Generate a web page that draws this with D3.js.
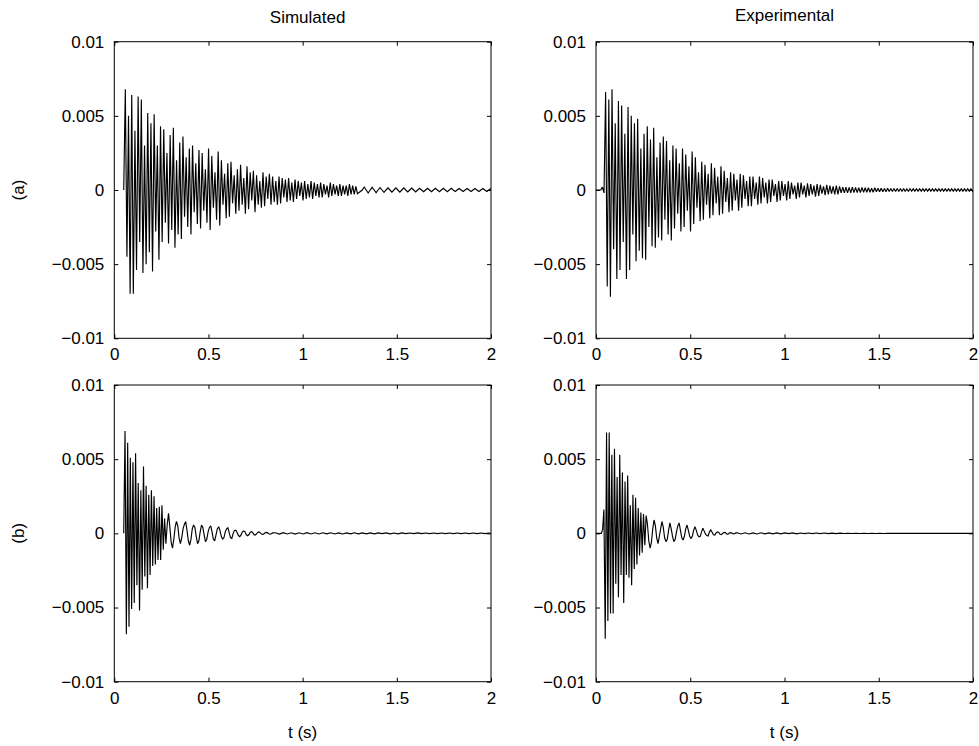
<!DOCTYPE html>
<html>
<head>
<meta charset="utf-8">
<script src="https://cdn.jsdelivr.net/npm/d3@7"></script>
<style>
  html, body { margin: 0; padding: 0; background: #fff; }
  svg { display: block; font-family: "Liberation Sans", Arial, Helvetica, sans-serif; }
</style>
</head>
<body>
<svg id="chart" width="979" height="746"></svg>
<script>
// ---------------- DATA ----------------
// Signal values below are read off the picture, in units of 1e-4 (multiplied by UNIT when drawn).
const UNIT = 1e-4;
const columnTitles = ["Simulated", "Experimental"];
const rowLabels = ["(a)", "(b)"];
const xLabel = "t (s)";
const xTickValues = [0, 0.5, 1, 1.5, 2];
const xTickLabels = ["0", "0.5", "1", "1.5", "2"];
const yTickValues = [-0.01, -0.005, 0, 0.005, 0.01];
const yTickLabels = ["\u22120.01", "\u22120.005", "0", "0.005", "0.01"];
const xDomain = [0, 2];
const yDomain = [-0.01, 0.01];

// (a) Simulated: samples every simAStep seconds from simAStart
const simAStart = 0.05, simAStep = 0.0085;
const simA = [0,
  68,-45, 50,-70, 64,-70, 40,-54, 63,-35, 61,-56, 30,-50, 52,-42, 45,-55, 51,-28,
  30,-47, 43,-35, 41,-22, 25,-36, 37,-27, 42,-39, 20,-30, 32,-33, 36,-18, 22,-25,
  28,-30, 30,-15, 18,-23, 27,-26, 25,-14, 14,-22, 28,-27, 23,-12, 12,-20, 26,-24,
  20,-10, 11,-19, 18,-18, 19,-9, 10,-16, 14,-14, 17,-10, 8,-16, 16,-13, 12,-7,
  13,-15, 10,-10, 6,-12, 12,-11, 9,-6, 11,-10, 9,-8, 6,-10, 9,-9, 8,-5,
  7,-8, 8,-7, 5,-8, 7,-6, 6,-4, 5,-7, 6,-6, 4,-5, 6,-6, 5,-4,
  4,-5, 5,-5, 4,-3, 3,-5, 5,-4, 4,-3, 3,-4, 4,-4, 3,-3, 3,-4,
  4,-3, 3,-3, 2.5,-2.5
];
// slower, small tail of the simulated (a) response
const simATailStart = 1.3165, simATailStep = 0.0105;
const simATail = [
  0, 2, 0, -2, 0, 1.8, 0, -1.8, 0, 1.6,
  0, -1.6, 0, 1.5, 0, -1.5, 0, 1.4, 0, -1.4,
  0, 1.4, 0, -1.3, 0, 1.3, 0, -1.3, 0, 1.2,
  0, -1.2, 0, 1.2, 0, -1.2, 0, 1.1, 0, -1.1,
  0, 1.1, 0, -1.1, 0, 1.1, 0, -1, 0, 1,
  0, -1, 0, 1, 0, -1, 0, 1, 0, -1,
  0, 1, 0, -1, 0, 1, 0
];

// (a) Experimental
const expAStart = 0, expAStep = 0.0085;
const expA = [0, 0, 0, 0, 2, -2,
  66,-65, 61,-72, 68,-40, 45,-60, 60,-54, 57,-35, 38,-60, 56,-54, 50,-30, 45,-48,
  48,-41, 28,-46, 38,-47, 43,-25, 34,-38, 42,-39, 22,-32, 32,-34, 36,-20, 33,-30,
  20,-34, 30,-26, 28,-16, 18,-28, 28,-25, 24,-14, 16,-28, 26,-23, 22,-12, 12,-21,
  19,-20, 17,-10, 11,-19, 18,-17, 15,-9, 9,-17, 16,-16, 13,-8, 8,-15, 12,-14,
  11,-7, 7,-14, 11,-12, 10,-6, 6,-11, 9,-11, 9,-6, 5,-10, 9,-9, 8,-5,
  5,-9, 7,-8, 7,-4, 4,-8, 6,-7, 6,-4, 4,-7, 6,-6, 5,-3, 3,-6,
  5,-5, 5,-3, 3,-5, 4.5,-4, 4,-3, 3,-4.5, 4,-4, 3.5,-2.5, 2.5,-3.5, 3.5,-3,
  3,-2.5, 2.5,-3, 3,-3,
  2.5,-2, 2,-2, 2,-2, 1.8,-2, 2,-1.8, 1.8,-1.8,
  1.5,-1.8, 1.8,-1.5, 1.5,-1.5, 1.5,-1.5, 1.2,-1.5,
  1.5,-1.2, 1.2,-1.2, 1.2,-1.2, 1,-1.2, 1.2,-1,
  1,-1, 1,-1, 1,-1, 1,-1, 1,-1,
  0.8,-1, 1,-0.8, 0.8,-0.8, 0.8,-0.8, 0.8,-0.8,
  0.8,-0.8, 0.8,-0.8, 0.8,-0.8, 0.8,-0.8, 0.8,-0.8,
  0.8,-0.8, 0.8,-0.8, 0.8,-0.8, 0.8,-0.8, 0.8,-0.8,
  0.8,-0.8, 0.8,-0.8, 0.8,-0.8, 0.8,-0.8, 0.8,-0.8,
  0.8,-0.8, 0.8,-0.8
];

// (b) Simulated: main part, then slow low-amplitude tail
const simBStart = 0.05, simBStep = 0.007;
const simB = [0,
  69,-68, 61,-63, 51,-51, 48,-47, 54,-35,
  34,-52, 29,-38, 45,-29, 32,-37, 26,-28,
  29,-22, 25,-21, 17,-18, 18,-18, 19,-11,
  10,-7, 6, 13.5, 4, -6, -10, -4, 4, 8,
  5, -3, -7, -3, 3, 6, 8, 2, -5, -8,
  -4, 3, 5.6, 4, -2, -7, -5, 1, 5.6, 4,
  -1, -5.6, -4, 1, 4, 5, 1, -4, -5, -1,
  3, 4.5, 2, -2, -3.8, -3, 1, 3, 3.8, 0.5,
  -3, -3.4, 0, 2, 2.2, 0.5, -1.5, -2.2, -1, 1,
  1.6, 1, -1, -1.6, -0.8, 0.8, 1.2, 0.3, -1, -1,
  0, 0.8, 0.8, 0, -0.7, -0.6, 0.2, 0.6, 0.5, -0.3,
  -0.5, -0.3, 0.3, 0.4
];
const simBTailStart = 0.855, simBTailStep = 0.021;
const simBTail = [
  0.4,-0.5, 0.5,-0.4, 0.4,-0.5, 0.4,-0.4, 0.5,-0.4,
  0.4,-0.4, 0.4,-0.3, 0.4,-0.4, 0.3,-0.4, 0.3,-0.3,
  0.4,-0.3, 0.3,-0.3, 0.3,-0.3, 0.3,-0.2, 0.3,-0.3,
  0.2,-0.3, 0.3,-0.2, 0.2,-0.2, 0.3,-0.2, 0.2,-0.2,
  0.2,-0.2, 0.2,-0.2, 0.2,-0.2, 0.2,-0.2, 0.2,-0.2,
  0.2,-0.2, 0.2,-0.2, 0.2,-0.2
];

// (b) Experimental
const expBStart = 0, expBStep = 0.007;
const expB = [0, 0, 0, 0, 0, 2.5,
  16,-71, 68,-59, 68,-54, 53,-54, 57,-34,
  38,-43, 53,-28, 41,-47, 35,-28, 39,-30,
  19,-35, 26,-24, 24,-21, 17,-15, 14,-13,
  13,-8, 12, 6, -5, -10, -6, 3, 9, 5,
  -3, -7, -2, 3, 8, 4, -3, -5.6, -4, 2,
  7, 3, -2, -5.6, -4, 1, 5, 7, 2, -3,
  -4.5, -2, 3, 5.6, 2, -2, -3.4, -2, 2, 4.5,
  2, -1, -2.3, -2, 1, 3.4, 1.5, -0.5, -1.5, -1.8,
  1, 2.3, 0.8, -1, -1.2, 0.3, 1, 0.6, -0.6, -0.8,
  0, 0.6, 0.5, -0.4, -0.5, 0.2, 0.5, 0.2, -0.4, -0.3,
  0.3, 0.4
];
const expBTailStart = 0.77, expBTailStep = 0.021;
const expBTail = [
  -0.4, 0.4,-0.4, 0.3,-0.4, 0.4,-0.3, 0.3,-0.3, 0.3,
  -0.3, 0.3,-0.2, 0.3,-0.3, 0.2,-0.2, 0.2,-0.2, 0.2,
  -0.2, 0.2,-0.2, 0.1,-0.2, 0.1,-0.1, 0.1,-0.1, 0.1,
  -0.1, 0.1,-0.1, 0.1,-0.1, 0.1,-0.1, 0.1, 0, 0,
  0, 0, 0, 0, 0, 0, 0, 0, 0, 0,
  0, 0, 0, 0, 0, 0, 0, 0, 0, 0
];

// ---------------- LAYOUT ----------------
const colX = [[114.3, 491], [596, 973]];
const rowY = [[41.7, 338.3], [385, 681.7]];

const panels = [
  { row: 0, col: 0, segs: [[simAStart, simAStep, simA], [simATailStart, simATailStep, simATail]] },
  { row: 0, col: 1, segs: [[expAStart, expAStep, expA]] },
  { row: 1, col: 0, segs: [[simBStart, simBStep, simB], [simBTailStart, simBTailStep, simBTail]] },
  { row: 1, col: 1, segs: [[expBStart, expBStep, expB], [expBTailStart, expBTailStep, expBTail]] }
];

const svg = d3.select("#chart");
svg.append("rect").attr("width", 979).attr("height", 746).attr("fill", "#fff");
const defs = svg.append("defs");
const FS = 17;
const TICK = 4;

panels.forEach((p, idx) => {
  const [x0, x1] = colX[p.col];
  const [y0, y1] = rowY[p.row];
  const x = d3.scaleLinear().domain(xDomain).range([x0, x1]);
  const y = d3.scaleLinear().domain(yDomain).range([y1, y0]);
  const g = svg.append("g");

  defs.append("clipPath").attr("id", "clip" + idx)
    .append("rect").attr("x", x0).attr("y", y0).attr("width", x1 - x0).attr("height", y1 - y0);

  // build points
  let pts = [];
  p.segs.forEach(([start, step, vals]) => {
    vals.forEach((v, i) => pts.push([start + i * step, v * UNIT]));
  });
  const line = d3.line().x(d => x(d[0])).y(d => y(d[1]));
  g.append("path")
    .attr("clip-path", "url(#clip" + idx + ")")
    .attr("d", line(pts))
    .attr("fill", "none")
    .attr("stroke", "#000")
    .attr("stroke-width", 1.15)
    .attr("stroke-linejoin", "miter")
    .attr("stroke-miterlimit", 2);

  // axes (ticks inward, MATLAB style)
  const fmtX = d => xTickLabels[xTickValues.indexOf(d)];
  const fmtY = d => yTickLabels[yTickValues.indexOf(d)];
  const axB = g.append("g").attr("transform", `translate(0,${y1})`)
    .call(d3.axisBottom(x).tickValues(xTickValues).tickFormat(fmtX).tickSizeInner(-TICK).tickSizeOuter(0).tickPadding(10));
  const axT = g.append("g").attr("transform", `translate(0,${y0})`)
    .call(d3.axisTop(x).tickValues(xTickValues).tickFormat("").tickSizeInner(-TICK).tickSizeOuter(0));
  const axL = g.append("g").attr("transform", `translate(${x0},0)`)
    .call(d3.axisLeft(y).tickValues(yTickValues).tickFormat(fmtY).tickSizeInner(-TICK).tickSizeOuter(0).tickPadding(10));
  const axR = g.append("g").attr("transform", `translate(${x1},0)`)
    .call(d3.axisRight(y).tickValues(yTickValues).tickFormat("").tickSizeInner(-TICK).tickSizeOuter(0));
  [axB, axT, axL, axR].forEach(a => {
    a.select(".domain").remove();
    a.selectAll("line").attr("stroke", "#000");
    a.selectAll("text").attr("fill", "#000").style("font-size", FS + "px")
      .style("font-family", '"Liberation Sans", Arial, sans-serif');
  });
  g.append("rect").attr("x", x0).attr("y", y0).attr("width", x1 - x0).attr("height", y1 - y0)
    .attr("fill", "none").attr("stroke", "#000").attr("stroke-width", 1);

  if (p.row === 0) {
    g.append("text").attr("x", (x0 + x1) / 2 + (p.col === 0 ? 5 : 0)).attr("y", p.col === 0 ? 23 : 21)
      .attr("text-anchor", "middle").style("font-size", FS + "px").text(columnTitles[p.col]);
  } else {
    g.append("text").attr("x", (x0 + x1) / 2).attr("y", 738)
      .attr("text-anchor", "middle").style("font-size", FS + "px").text(xLabel);
  }
  if (p.col === 0) {
    g.append("text").attr("transform", `translate(24,${(y0 + y1) / 2}) rotate(-90)`)
      .attr("text-anchor", "middle").style("font-size", FS + "px").text(rowLabels[p.row]);
  }
});
</script>
</body>
</html>
